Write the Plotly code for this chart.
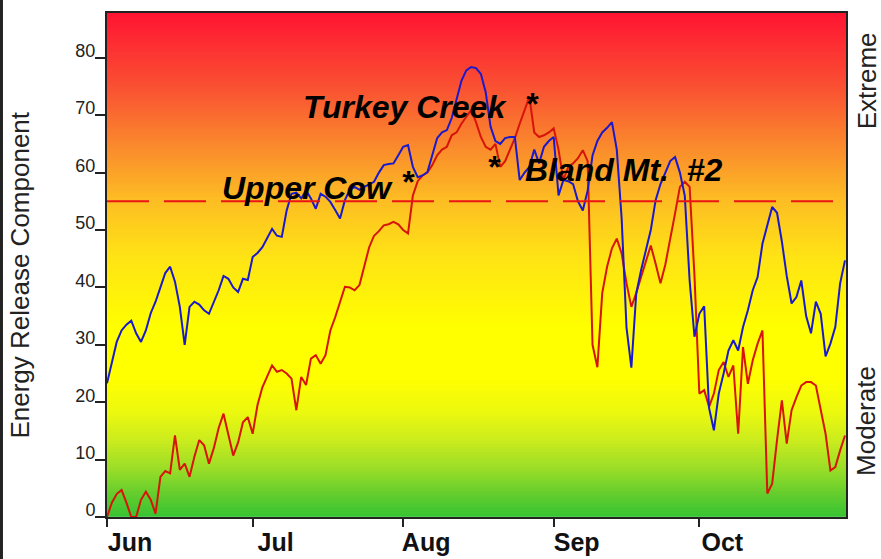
import plotly.graph_objects as go
import pandas as pd
import numpy as np

# ---------------- data ----------------
START = "2000-06-01"
END = "2000-10-31 05:00"

# daily Energy Release Component, Jun 1 .. Oct 31 (153 days)
erc_blue = [
    23.3, 27.0, 30.5, 32.5, 33.5, 34.2, 32.0, 30.5, 32.5, 35.5,
    37.5, 40.0, 42.5, 43.6, 41.0, 36.6, 30.0, 36.6, 37.5, 37.0,
    36.0, 35.4, 37.5, 39.5, 42.0, 41.5, 40.0, 39.2, 41.5, 41.3,
    45.3, 46.0, 47.0, 48.5, 50.2, 49.0, 48.8, 53.4, 56.3, 56.5,
    55.5, 56.9, 55.5, 53.7, 56.3, 55.8, 54.9, 53.5, 52.0, 55.2,
    57.0, 57.5, 57.0, 57.5, 58.0, 58.4, 60.0, 61.3, 61.5, 61.6,
    63.0, 64.5, 64.8, 61.0, 59.2, 59.5, 60.1, 63.3, 66.0, 67.0,
    67.4, 69.5, 72.6, 76.0, 77.8, 78.4, 78.2, 77.2, 74.0, 68.0,
    65.5, 65.0, 66.0, 66.2, 66.2, 58.7, 60.0, 61.0, 64.0, 61.6,
    64.5, 65.5, 66.2, 56.0, 58.7, 58.5, 58.0, 55.0, 53.4, 56.9,
    63.0, 65.5, 67.0, 67.8, 68.8, 64.0, 52.0, 33.0, 26.0, 38.9,
    43.0, 46.5, 50.0, 55.2, 58.0, 60.0, 62.0, 62.7, 60.0, 56.0,
    41.2, 31.4, 35.4, 36.7, 19.0, 15.1, 21.5, 25.0, 29.0, 30.8,
    29.0, 33.1, 36.0, 39.5, 41.8, 47.6, 51.0, 54.0, 53.0, 48.0,
    42.0, 37.2, 38.3, 41.2, 35.0, 32.0, 37.5, 35.4, 28.0, 30.2,
    33.1, 40.7, 44.7,
]
erc_red = [
    0.0, 2.5, 4.0, 4.7, 2.5, 0.0, 0.0, 3.0, 4.4, 3.0,
    0.6, 7.0, 8.0, 7.6, 14.2, 8.2, 9.3, 7.0, 10.5, 13.4,
    12.5, 9.3, 12.0, 15.5, 18.0, 14.5, 10.7, 13.0, 16.5, 17.4,
    14.5, 19.5, 22.6, 24.5, 26.4, 25.3, 25.6, 25.0, 24.1, 18.6,
    24.4, 23.0, 27.6, 28.2, 26.7, 28.2, 32.5, 34.8, 37.5, 40.1,
    40.0, 39.5, 40.4, 43.5, 47.0, 49.0, 49.8, 50.8, 51.0, 51.4,
    51.0, 50.0, 49.4, 56.0, 58.5, 59.5, 60.0, 61.3, 63.0, 64.0,
    64.5, 66.5, 67.0, 68.5, 69.7, 70.9, 68.8, 66.2, 64.5, 64.0,
    65.0, 61.0, 62.0, 63.9, 66.0, 68.5, 70.9, 73.2, 67.0, 66.2,
    66.5, 67.0, 67.7, 64.0, 58.7, 61.0, 61.6, 62.5, 63.9, 62.0,
    30.0, 26.1, 39.0, 43.6, 46.8, 48.5, 45.9, 40.7, 36.6, 39.0,
    41.8, 44.7, 47.3, 44.1, 40.7, 44.0, 48.8, 52.9, 57.5, 58.4,
    57.5, 42.0, 21.5, 22.1, 19.2, 21.5, 25.6, 27.0, 24.4, 26.4,
    14.5, 29.6, 23.2, 27.3, 30.2, 32.5, 4.1, 5.8, 13.4, 20.3,
    12.8, 18.6, 20.9, 22.9, 23.5, 23.5, 22.9, 19.0, 14.5, 8.1,
    8.7, 11.6, 14.2,
]

THRESHOLD = 55
Y_MAX = 87.8
Y_TICKS = [0, 10, 20, 30, 40, 50, 60, 70, 80]
MONTH_TICKS = ["2000-06-01", "2000-07-01", "2000-08-01", "2000-09-01", "2000-10-01"]
MONTH_LABELS = ["Jun", "Jul", "Aug", "Sep", "Oct"]

# station labels: (text, date, value)
STATIONS = [
    ("Turkey Creek", "2000-08-01 07:00", 71.4),
    ("Upper Cow", "2000-07-12 05:00", 57.4),
    ("Bland Mt.  #2", "2000-09-15 14:00", 60.5),
]
STARS = [
    ("2000-08-27 14:00", 72.0),
    ("2000-08-02 00:00", 58.3),
    ("2000-08-19 16:00", 61.0),
]

# background gradient stops (value, colour)
GRADIENT = [
    (0, "rgb(55,195,50)"), (4, "rgb(100,205,45)"), (8, "rgb(150,220,40)"),
    (13, "rgb(200,235,30)"), (18, "rgb(235,248,15)"), (24, "rgb(255,255,0)"),
    (33, "rgb(255,255,0)"), (45, "rgb(255,228,20)"), (55, "rgb(253,190,35)"),
    (65, "rgb(250,135,45)"), (75, "rgb(250,80,50)"), (87.8, "rgb(255,20,50)"),
]

# ---------------- figure ----------------
dates = pd.date_range(START, periods=len(erc_blue), freq="D")

y_edges = np.arange(0, Y_MAX + 0.25, 0.25)
y_mid = (y_edges[:-1] + y_edges[1:]) / 2
colorscale = [[v / Y_MAX, c] for v, c in GRADIENT]

fig = go.Figure()
fig.add_trace(go.Heatmap(
    x=[START, END], y=y_edges, z=[[v] for v in y_mid],
    colorscale=colorscale, zmin=0, zmax=Y_MAX, showscale=False,
    hoverinfo="skip",
))
fig.add_trace(go.Scatter(x=dates, y=erc_red, mode="lines",
                         line=dict(color="rgb(215,20,10)", width=2)))
fig.add_trace(go.Scatter(x=dates, y=erc_blue, mode="lines",
                         line=dict(color="rgb(25,25,205)", width=2)))

fig.add_shape(type="line", xref="paper", x0=0, x1=1, yref="y",
              y0=THRESHOLD, y1=THRESHOLD,
              line=dict(color="rgb(235,20,20)", width=2, dash="42px,15px"))

# left image border
fig.add_shape(type="line", xref="paper", x0=-0.1428, x1=-0.1428,
              yref="paper", y0=-0.09, y1=1.03,
              line=dict(color="#222", width=3))

lab_font = dict(family="Arial, Liberation Sans", size=32, color="black",
                weight="bold", style="italic")
for text, xd, yv in STATIONS:
    fig.add_annotation(x=xd, y=yv, xref="x", yref="y", text=text,
                       showarrow=False, font=lab_font,
                       xanchor="center", yanchor="middle")
for xd, yv in STARS:
    fig.add_annotation(x=xd, y=yv, xref="x", yref="y", text="*",
                       showarrow=False, font=lab_font,
                       xanchor="center", yanchor="middle")

side_font = dict(family="Arial, Liberation Sans", size=26, color="#222")
fig.add_annotation(x=-0.117, y=0.48, xref="paper", yref="paper",
                   text="Energy Release Component", textangle=-90,
                   showarrow=False, font=side_font,
                   xanchor="center", yanchor="middle")
fig.add_annotation(x=1.028, y=0.866, xref="paper", yref="paper",
                   text="Extreme", textangle=-90, showarrow=False,
                   font=side_font, xanchor="center", yanchor="middle")
fig.add_annotation(x=1.028, y=0.19, xref="paper", yref="paper",
                   text="Moderate", textangle=-90, showarrow=False,
                   font=side_font, xanchor="center", yanchor="middle")

fig.update_layout(
    width=881, height=559,
    margin=dict(l=107, r=35, t=13, b=42),
    paper_bgcolor="white", plot_bgcolor="white",
    showlegend=False,
    xaxis=dict(
        type="date", range=[START, END], automargin=False,
        tickvals=MONTH_TICKS, ticktext=MONTH_LABELS,
        ticks="outside", ticklen=8, tickwidth=2, tickcolor="#222",
        showgrid=False, zeroline=False,
        showline=True, linecolor="#222", linewidth=2, mirror=True,
        tickfont=dict(family="Arial, Liberation Sans", size=25,
                      color="#111", weight="bold"),
        ticklabelshift=23, ticklabelstandoff=-6,
    ),
    yaxis=dict(
        range=[0, Y_MAX], tickvals=Y_TICKS, automargin=False,
        ticks="outside", ticklen=10, tickwidth=2, tickcolor="#222",
        showgrid=False, zeroline=False,
        showline=True, linecolor="#222", linewidth=2, mirror=True,
        tickfont=dict(family="Arial, Liberation Sans", size=18, color="#222"),
        ticklabelshift=-7, ticklabelstandoff=-4,
    ),
)

fig.write_html(
    "out.html",
    config={"displayModeBar": False},
    post_script="document.body.style.margin='0';document.body.style.overflow='hidden';",
)
